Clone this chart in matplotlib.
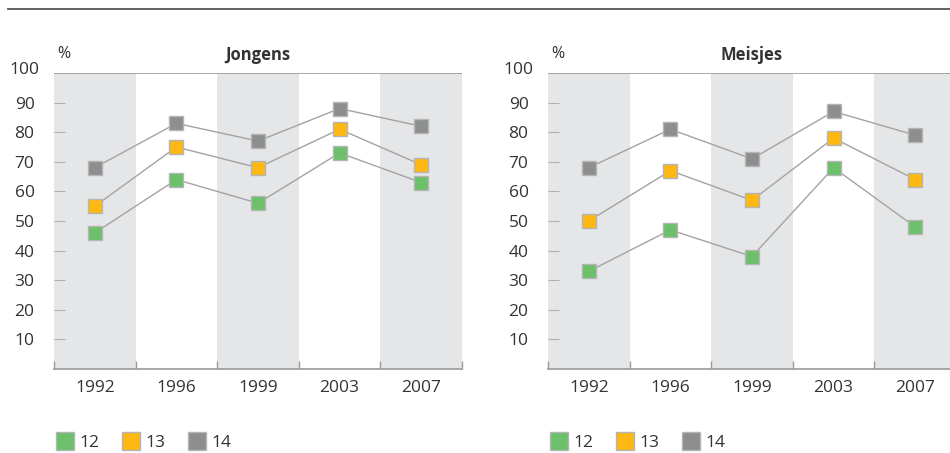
import matplotlib.pyplot as plt
from matplotlib.lines import Line2D

plt.rcParams['font.family'] = ['Open Sans', 'DejaVu Sans']

years = ['1992', '1996', '1999', '2003', '2007']
ages = ['12', '13', '14']

jongens_12 = [46, 64, 56, 73, 63]
jongens_13 = [55, 75, 68, 81, 69]
jongens_14 = [68, 83, 77, 88, 82]

meisjes_12 = [33, 47, 38, 68, 48]
meisjes_13 = [50, 67, 57, 78, 64]
meisjes_14 = [68, 81, 71, 87, 79]

colors = ['#6cc06a', '#fdb813', '#8d8e90']
band_color = '#e5e6e8'
line_color = '#a3a3a3'
text_color = '#333333'

fig = plt.figure(figsize=(9.5, 4.53), dpi=100)
fig.add_artist(Line2D([8 / 950, 1], [1 - 8.5 / 453] * 2, color='#555555', lw=1.3))


def panel(left, title, series):
    ax = fig.add_axes([left / 950, 84 / 453, 408 / 950, 296 / 453])
    n = len(years)
    ax.set_xlim(-0.5, n - 0.5)
    ax.set_ylim(0, 100)
    for i in range(0, n, 2):
        ax.axvspan(i - 0.5, i + 0.5, color=band_color, lw=0, zorder=0)
    ax.axhline(100, color='#9a9a9a', lw=1.2, zorder=1)
    x = list(range(n))
    for vals, c in zip(series, colors):
        ax.plot(x, vals, color=line_color, lw=1, zorder=2)
        ax.plot(x, vals, ls='none', marker='s', ms=10, mfc=c, mec='#b5b5b5',
                mew=1, zorder=3)
    for s in ['top', 'right', 'left']:
        ax.spines[s].set_visible(False)
    ax.spines['bottom'].set_color('#9a9a9a')
    ax.spines['bottom'].set_linewidth(1.2)
    ax.set_yticks(range(10, 100, 10))
    ax.tick_params(axis='y', direction='in', length=8, color='#b0b0b0', width=0.8,
                   labelsize=12.5, labelcolor=text_color, pad=14)
    ax.set_xticks(x)
    ax.set_xticklabels(years)
    ax.set_xticks([i - 0.5 for i in range(n + 1)], minor=True)
    ax.tick_params(axis='x', which='major', length=0, labelsize=12.5,
                   labelcolor=text_color, pad=8)
    ax.tick_params(axis='x', which='minor', direction='in', length=6,
                   color='#9a9a9a', width=1)
    # the 100 label sits above the top line
    ax.text(-0.036, 101, '100', transform=ax.get_yaxis_transform(), ha='right',
            va='center', fontsize=12.5, color=text_color)
    ax.text(0.008, 1.065, '%', transform=ax.transAxes, ha='left', va='center',
            fontsize=11.5, color=text_color)
    ax.set_title(title, fontsize=12, fontweight='bold', color=text_color, pad=9)
    handles = [Line2D([], [], ls='none', marker='s', ms=12.5, mfc=c, mec='#b5b5b5',
                      mew=1) for c in colors]
    ax.legend(handles, ages, loc='center left', bbox_to_anchor=(-0.016, -0.25),
              ncol=3, frameon=False, fontsize=12.5, handlelength=1,
              handletextpad=0.35, columnspacing=1.3, borderpad=0,
              labelcolor=text_color)
    return ax


panel(54, 'Jongens', [jongens_12, jongens_13, jongens_14])
panel(548, 'Meisjes', [meisjes_12, meisjes_13, meisjes_14])

fig.savefig('out.png', dpi=100)
